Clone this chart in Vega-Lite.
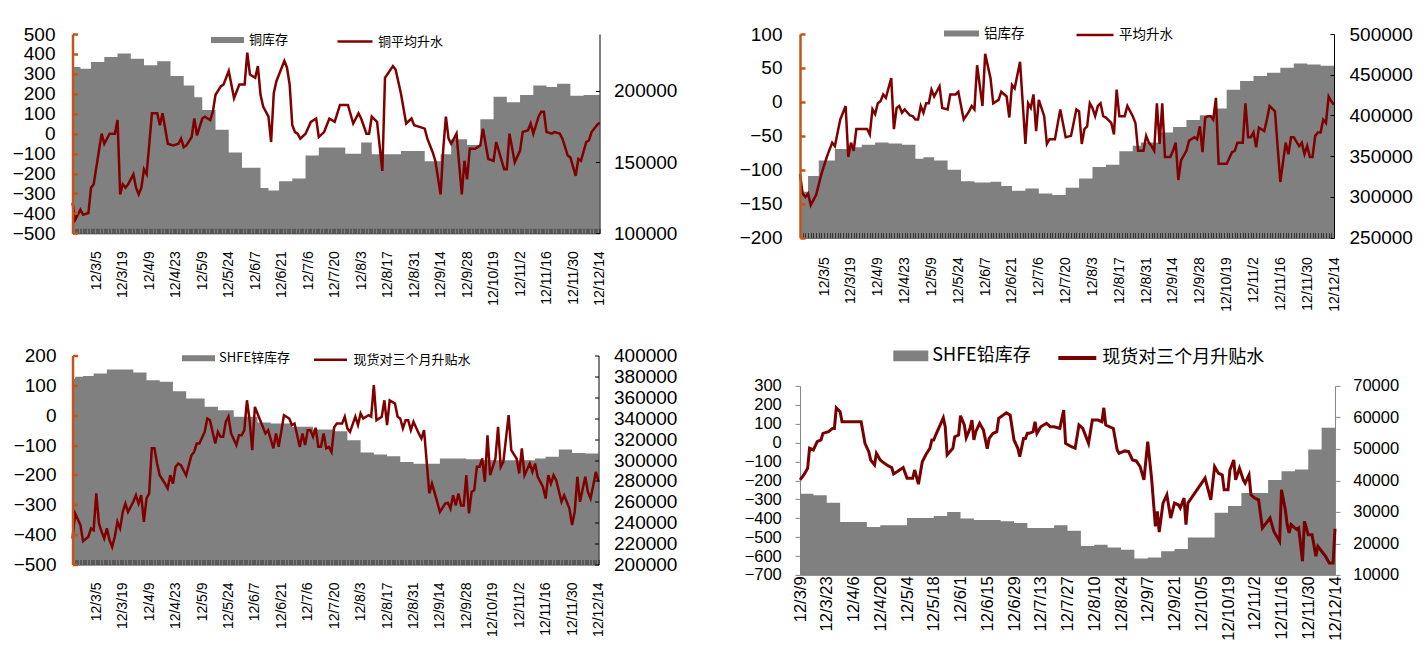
{
"$schema": "https://vega.github.io/schema/vega-lite/v6.json",
"background": "white",
"padding": {"left": 11.5, "top": 15, "right": 0, "bottom": 0},
"config": {"view": {"stroke": null}, "font": "Liberation Sans", "axis": {"grid": false, "labelFont": "Liberation Sans", "labelColor": "#000", "title": null, "labelOverlap": false}, "legend": {"labelFont": "Noto Sans CJK SC", "labelColor": "#000", "padding": 0, "title": null, "symbolOpacity": 1, "labelLimit": 400}},
"datasets": {
"cu_inv": [{"i":0,"v":216900},{"i":3,"v":215600},{"i":7,"v":220400},{"i":12,"v":223900},{"i":17,"v":226300},{"i":22,"v":222700},{"i":27,"v":218000},{"i":32,"v":220800},{"i":37,"v":210500},{"i":42,"v":203800},{"i":46,"v":195600},{"i":49,"v":186600},{"i":54,"v":172700},{"i":59,"v":156700},{"i":64,"v":146000},{"i":71,"v":131900},{"i":74,"v":130000},{"i":78,"v":136500},{"i":83,"v":138500},{"i":88,"v":154700},{"i":93,"v":160200},{"i":103,"v":155900},{"i":109,"v":163700},{"i":113,"v":155500},{"i":124,"v":157800},{"i":133,"v":150700},{"i":139,"v":155500},{"i":143,"v":166100},{"i":149,"v":162000},{"i":154,"v":180200},{"i":159,"v":196000},{"i":164,"v":192100},{"i":169,"v":197200},{"i":174,"v":203800},{"i":179,"v":202700},{"i":183,"v":205000},{"i":188,"v":196700},{"i":193,"v":197200},{"i":199,"v":197200}],
"cu_sp": [{"i":0,"v":-347},{"i":1,"v":-432},{"i":3,"v":-382},{"i":4,"v":-407},{"i":6,"v":-398},{"i":7,"v":-271},{"i":8,"v":-254},{"i":11,"v":0},{"i":12,"v":-51},{"i":14,"v":0},{"i":16,"v":0},{"i":17,"v":68},{"i":18,"v":-305},{"i":19,"v":-254},{"i":20,"v":-271},{"i":21,"v":-254},{"i":23,"v":-204},{"i":24,"v":-271},{"i":25,"v":-305},{"i":26,"v":-271},{"i":27,"v":-178},{"i":28,"v":-203},{"i":30,"v":102},{"i":32,"v":102},{"i":33,"v":42},{"i":34,"v":102},{"i":36,"v":-51},{"i":38,"v":-59},{"i":40,"v":-51},{"i":41,"v":-25},{"i":42,"v":-68},{"i":43,"v":-59},{"i":45,"v":-17},{"i":46,"v":76},{"i":47,"v":-9},{"i":49,"v":76},{"i":50,"v":85},{"i":52,"v":68},{"i":53,"v":110},{"i":54,"v":195},{"i":56,"v":237},{"i":57,"v":246},{"i":59,"v":314},{"i":61,"v":178},{"i":63,"v":246},{"i":65,"v":246},{"i":66,"v":407},{"i":67,"v":297},{"i":69,"v":280},{"i":70,"v":339},{"i":71,"v":195},{"i":72,"v":136},{"i":74,"v":85},{"i":75,"v":-42},{"i":76,"v":203},{"i":77,"v":263},{"i":80,"v":365},{"i":81,"v":331},{"i":82,"v":246},{"i":83,"v":42},{"i":84,"v":8},{"i":85,"v":0},{"i":86,"v":-25},{"i":88,"v":0},{"i":90,"v":59},{"i":92,"v":76},{"i":93,"v":-17},{"i":95,"v":8},{"i":97,"v":76},{"i":99,"v":59},{"i":101,"v":144},{"i":104,"v":144},{"i":106,"v":51},{"i":108,"v":102},{"i":109,"v":76},{"i":111,"v":0},{"i":112,"v":0},{"i":113,"v":85},{"i":115,"v":59},{"i":117,"v":-187},{"i":118,"v":280},{"i":121,"v":339},{"i":122,"v":322},{"i":124,"v":203},{"i":126,"v":51},{"i":128,"v":76},{"i":129,"v":42},{"i":131,"v":34},{"i":133,"v":25},{"i":134,"v":-25},{"i":136,"v":-93},{"i":137,"v":-136},{"i":139,"v":-305},{"i":140,"v":-76},{"i":141,"v":85},{"i":142,"v":-25},{"i":143,"v":-51},{"i":145,"v":0},{"i":147,"v":-305},{"i":148,"v":-136},{"i":149,"v":-229},{"i":150,"v":-76},{"i":152,"v":-76},{"i":154,"v":-59},{"i":155,"v":25},{"i":157,"v":-127},{"i":159,"v":-136},{"i":160,"v":-42},{"i":163,"v":-178},{"i":164,"v":-178},{"i":165,"v":0},{"i":167,"v":-144},{"i":169,"v":-85},{"i":170,"v":8},{"i":172,"v":17},{"i":173,"v":51},{"i":174,"v":0},{"i":176,"v":85},{"i":177,"v":110},{"i":178,"v":110},{"i":179,"v":8},{"i":181,"v":0},{"i":182,"v":8},{"i":184,"v":0},{"i":185,"v":-25},{"i":187,"v":-110},{"i":188,"v":-119},{"i":190,"v":-212},{"i":191,"v":-127},{"i":192,"v":-136},{"i":194,"v":-42},{"i":195,"v":-34},{"i":196,"v":8},{"i":198,"v":42},{"i":199,"v":55}],
"al_inv": [{"i":0,"v":306500},{"i":3,"v":325800},{"i":7,"v":344800},{"i":13,"v":358900},{"i":19,"v":360900},{"i":23,"v":364100},{"i":28,"v":366900},{"i":33,"v":365700},{"i":38,"v":364100},{"i":43,"v":346800},{"i":46,"v":348800},{"i":50,"v":344800},{"i":55,"v":333500},{"i":60,"v":319400},{"i":65,"v":317800},{"i":71,"v":318600},{"i":75,"v":313300},{"i":79,"v":307700},{"i":84,"v":310500},{"i":89,"v":304400},{"i":94,"v":302400},{"i":99,"v":311300},{"i":104,"v":322600},{"i":109,"v":336700},{"i":114,"v":339500},{"i":119,"v":356000},{"i":124,"v":362900},{"i":127,"v":366900},{"i":134,"v":379000},{"i":139,"v":385900},{"i":144,"v":394400},{"i":149,"v":400400},{"i":154,"v":408500},{"i":159,"v":431500},{"i":164,"v":442300},{"i":169,"v":448400},{"i":174,"v":452400},{"i":179,"v":458500},{"i":184,"v":463700},{"i":189,"v":462500},{"i":194,"v":460900},{"i":199,"v":455000}],
"al_sp": [{"i":0,"v":-106},{"i":1,"v":-135},{"i":2,"v":-140},{"i":3,"v":-135},{"i":4,"v":-152},{"i":6,"v":-137},{"i":8,"v":-106},{"i":10,"v":-81},{"i":12,"v":-60},{"i":13,"v":-65},{"i":15,"v":-26},{"i":17,"v":-6},{"i":18,"v":-81},{"i":19,"v":-60},{"i":20,"v":-72},{"i":21,"v":-40},{"i":25,"v":-40},{"i":26,"v":-48},{"i":27,"v":-11},{"i":28,"v":-18},{"i":29,"v":-2},{"i":30,"v":1},{"i":31,"v":11},{"i":32,"v":6},{"i":34,"v":35},{"i":35,"v":-40},{"i":36,"v":-9},{"i":37,"v":-6},{"i":38,"v":-16},{"i":39,"v":-11},{"i":41,"v":-20},{"i":42,"v":-21},{"i":43,"v":-26},{"i":44,"v":-26},{"i":45,"v":-6},{"i":46,"v":-16},{"i":47,"v":-2},{"i":48,"v":-2},{"i":49,"v":18},{"i":50,"v":8},{"i":52,"v":23},{"i":53,"v":-9},{"i":55,"v":-11},{"i":56,"v":11},{"i":58,"v":11},{"i":59,"v":15},{"i":61,"v":-26},{"i":63,"v":-14},{"i":64,"v":-6},{"i":65,"v":-11},{"i":66,"v":54},{"i":68,"v":-6},{"i":69,"v":71},{"i":71,"v":35},{"i":72,"v":-2},{"i":74,"v":3},{"i":75,"v":15},{"i":77,"v":8},{"i":78,"v":-23},{"i":79,"v":25},{"i":80,"v":20},{"i":82,"v":59},{"i":84,"v":-62},{"i":85,"v":-2},{"i":86,"v":-9},{"i":87,"v":11},{"i":88,"v":-43},{"i":89,"v":3},{"i":91,"v":-21},{"i":92,"v":-62},{"i":93,"v":-55},{"i":95,"v":-55},{"i":97,"v":-11},{"i":99,"v":-52},{"i":101,"v":-50},{"i":103,"v":-11},{"i":104,"v":-14},{"i":105,"v":-62},{"i":106,"v":-40},{"i":107,"v":-36},{"i":108,"v":-2},{"i":109,"v":-9},{"i":110,"v":-21},{"i":111,"v":-6},{"i":112,"v":-2},{"i":113,"v":-21},{"i":114,"v":-23},{"i":116,"v":-31},{"i":117,"v":-48},{"i":118,"v":18},{"i":119,"v":-21},{"i":121,"v":-21},{"i":122,"v":-6},{"i":124,"v":-21},{"i":125,"v":-31},{"i":126,"v":-72},{"i":128,"v":-72},{"i":129,"v":-50},{"i":130,"v":-60},{"i":131,"v":-65},{"i":132,"v":-72},{"i":133,"v":-2},{"i":134,"v":-62},{"i":135,"v":-2},{"i":136,"v":-81},{"i":138,"v":-81},{"i":139,"v":-72},{"i":140,"v":-60},{"i":141,"v":-115},{"i":142,"v":-86},{"i":144,"v":-72},{"i":145,"v":-57},{"i":147,"v":-52},{"i":148,"v":-55},{"i":149,"v":-36},{"i":150,"v":-74},{"i":151,"v":-23},{"i":152,"v":-21},{"i":153,"v":-21},{"i":154,"v":-26},{"i":155,"v":6},{"i":156,"v":-91},{"i":159,"v":-91},{"i":161,"v":-74},{"i":162,"v":-72},{"i":163,"v":-60},{"i":165,"v":-60},{"i":166,"v":-2},{"i":167,"v":-52},{"i":168,"v":-52},{"i":169,"v":-45},{"i":170,"v":-67},{"i":171,"v":-38},{"i":173,"v":-43},{"i":174,"v":-26},{"i":175,"v":-6},{"i":177,"v":-14},{"i":179,"v":-118},{"i":181,"v":-60},{"i":182,"v":-77},{"i":183,"v":-52},{"i":184,"v":-52},{"i":186,"v":-65},{"i":187,"v":-60},{"i":188,"v":-77},{"i":189,"v":-65},{"i":190,"v":-81},{"i":191,"v":-81},{"i":192,"v":-50},{"i":193,"v":-45},{"i":194,"v":-45},{"i":195,"v":-26},{"i":196,"v":-31},{"i":197,"v":8},{"i":198,"v":1},{"i":199,"v":-4}],
"zn_inv": [{"i":0,"v":377400},{"i":1,"v":379600},{"i":4,"v":380500},{"i":8,"v":382800},{"i":13,"v":386600},{"i":23,"v":383700},{"i":28,"v":376400},{"i":33,"v":374800},{"i":38,"v":365900},{"i":43,"v":358900},{"i":50,"v":350900},{"i":55,"v":347700},{"i":61,"v":341300},{"i":70,"v":335900},{"i":75,"v":334900},{"i":83,"v":331700},{"i":91,"v":329200},{"i":99,"v":327600},{"i":104,"v":319000},{"i":109,"v":307200},{"i":114,"v":305300},{"i":119,"v":303700},{"i":124,"v":298200},{"i":129,"v":296300},{"i":139,"v":301400},{"i":149,"v":300700},{"i":155,"v":299800},{"i":175,"v":301400},{"i":179,"v":303000},{"i":184,"v":310000},{"i":189,"v":306800},{"i":194,"v":306200},{"i":199,"v":306200}],
"zn_sp": [{"i":0,"v":-413},{"i":1,"v":-329},{"i":3,"v":-368},{"i":4,"v":-422},{"i":6,"v":-407},{"i":7,"v":-379},{"i":8,"v":-385},{"i":9,"v":-262},{"i":10,"v":-362},{"i":11,"v":-390},{"i":12,"v":-413},{"i":13,"v":-379},{"i":14,"v":-418},{"i":15,"v":-441},{"i":16,"v":-407},{"i":17,"v":-357},{"i":18,"v":-379},{"i":19,"v":-324},{"i":20,"v":-296},{"i":21,"v":-324},{"i":23,"v":-290},{"i":24,"v":-268},{"i":25,"v":-296},{"i":26,"v":-268},{"i":27,"v":-357},{"i":28,"v":-279},{"i":29,"v":-262},{"i":30,"v":-111},{"i":31,"v":-111},{"i":32,"v":-162},{"i":33,"v":-201},{"i":35,"v":-229},{"i":36,"v":-245},{"i":37,"v":-201},{"i":38,"v":-229},{"i":39,"v":-173},{"i":40,"v":-162},{"i":41,"v":-167},{"i":43,"v":-201},{"i":45,"v":-134},{"i":46,"v":-123},{"i":47,"v":-95},{"i":48,"v":-95},{"i":50,"v":-56},{"i":51,"v":-11},{"i":52,"v":-17},{"i":54,"v":-95},{"i":55,"v":-56},{"i":56,"v":-72},{"i":57,"v":-72},{"i":58,"v":-22},{"i":59,"v":-5},{"i":60,"v":-61},{"i":62,"v":-100},{"i":63,"v":-67},{"i":64,"v":-67},{"i":65,"v":-50},{"i":66,"v":50},{"i":67,"v":-17},{"i":68,"v":-117},{"i":69,"v":28},{"i":71,"v":-17},{"i":72,"v":-39},{"i":73,"v":-61},{"i":74,"v":-50},{"i":76,"v":-111},{"i":77,"v":-61},{"i":78,"v":-106},{"i":80,"v":0},{"i":82,"v":-11},{"i":83,"v":-33},{"i":84,"v":-28},{"i":86,"v":-106},{"i":87,"v":-61},{"i":88,"v":-100},{"i":89,"v":-50},{"i":90,"v":-50},{"i":91,"v":-72},{"i":92,"v":-42},{"i":93,"v":-106},{"i":94,"v":-106},{"i":95,"v":-61},{"i":96,"v":-111},{"i":97,"v":-106},{"i":98,"v":-123},{"i":99,"v":-40},{"i":100,"v":-28},{"i":102,"v":-28},{"i":103,"v":-5},{"i":104,"v":-44},{"i":105,"v":-56},{"i":107,"v":-5},{"i":108,"v":-33},{"i":109,"v":6},{"i":110,"v":-11},{"i":112,"v":0},{"i":113,"v":-5},{"i":114,"v":101},{"i":115,"v":-17},{"i":117,"v":-5},{"i":118,"v":50},{"i":119,"v":-33},{"i":120,"v":50},{"i":122,"v":39},{"i":123,"v":-5},{"i":124,"v":-11},{"i":125,"v":-44},{"i":126,"v":-17},{"i":127,"v":-17},{"i":128,"v":-50},{"i":129,"v":-22},{"i":131,"v":-61},{"i":132,"v":-78},{"i":133,"v":-50},{"i":135,"v":-262},{"i":136,"v":-229},{"i":137,"v":-259},{"i":139,"v":-324},{"i":141,"v":-296},{"i":142,"v":-293},{"i":143,"v":-313},{"i":144,"v":-268},{"i":145,"v":-302},{"i":146,"v":-262},{"i":147,"v":-302},{"i":148,"v":-302},{"i":149,"v":-201},{"i":150,"v":-329},{"i":151,"v":-257},{"i":152,"v":-251},{"i":153,"v":-173},{"i":154,"v":-173},{"i":155,"v":-145},{"i":156,"v":-223},{"i":157,"v":-67},{"i":158,"v":-201},{"i":160,"v":-145},{"i":161,"v":-39},{"i":162,"v":-173},{"i":163,"v":-156},{"i":165,"v":0},{"i":166,"v":-117},{"i":168,"v":-145},{"i":169,"v":-195},{"i":170,"v":-111},{"i":171,"v":-201},{"i":173,"v":-162},{"i":174,"v":-190},{"i":175,"v":-162},{"i":176,"v":-206},{"i":178,"v":-240},{"i":179,"v":-279},{"i":180,"v":-201},{"i":181,"v":-229},{"i":182,"v":-201},{"i":183,"v":-218},{"i":185,"v":-290},{"i":186,"v":-268},{"i":187,"v":-290},{"i":188,"v":-313},{"i":189,"v":-368},{"i":190,"v":-324},{"i":191,"v":-206},{"i":192,"v":-290},{"i":194,"v":-206},{"i":195,"v":-257},{"i":196,"v":-279},{"i":197,"v":-235},{"i":198,"v":-190},{"i":199,"v":-223}],
"pb_inv": [{"t":0,"v":35800},{"t":7,"v":35300},{"t":14,"v":32900},{"t":21,"v":26800},{"t":35,"v":25200},{"t":42,"v":25800},{"t":56,"v":28100},{"t":70,"v":28700},{"t":77,"v":30000},{"t":84,"v":27900},{"t":91,"v":27400},{"t":105,"v":27000},{"t":112,"v":26500},{"t":119,"v":24900},{"t":133,"v":25800},{"t":140,"v":24000},{"t":147,"v":19200},{"t":154,"v":19600},{"t":161,"v":18700},{"t":168,"v":18000},{"t":175,"v":15200},{"t":182,"v":15500},{"t":189,"v":17500},{"t":196,"v":18200},{"t":203,"v":21900},{"t":217,"v":29700},{"t":224,"v":31900},{"t":231,"v":36000},{"t":245,"v":40100},{"t":252,"v":42900},{"t":259,"v":43500},{"t":266,"v":49800},{"t":273,"v":56700},{"t":280,"v":64000}],
"pb_sp": [{"t":0,"v":-197},{"t":2,"v":-171},{"t":4,"v":-136},{"t":5,"v":-30},{"t":7,"v":-39},{"t":9,"v":5},{"t":11,"v":14},{"t":12,"v":49},{"t":15,"v":58},{"t":17,"v":75},{"t":18,"v":75},{"t":19,"v":184},{"t":21,"v":163},{"t":22,"v":110},{"t":32,"v":110},{"t":34,"v":-4},{"t":36,"v":-48},{"t":37,"v":-92},{"t":39,"v":-118},{"t":40,"v":-57},{"t":42,"v":-92},{"t":43,"v":-101},{"t":46,"v":-122},{"t":48,"v":-132},{"t":49,"v":-166},{"t":51,"v":-153},{"t":54,"v":-132},{"t":56,"v":-188},{"t":59,"v":-188},{"t":60,"v":-145},{"t":62,"v":-220},{"t":64,"v":-101},{"t":66,"v":-62},{"t":68,"v":-30},{"t":69,"v":14},{"t":70,"v":14},{"t":71,"v":40},{"t":75,"v":131},{"t":76,"v":84},{"t":77,"v":-65},{"t":80,"v":-30},{"t":81,"v":31},{"t":83,"v":40},{"t":84,"v":142},{"t":86,"v":93},{"t":87,"v":26},{"t":89,"v":75},{"t":90,"v":119},{"t":91,"v":14},{"t":92,"v":58},{"t":94,"v":102},{"t":96,"v":66},{"t":98,"v":-32},{"t":99,"v":22},{"t":101,"v":49},{"t":103,"v":58},{"t":104,"v":128},{"t":108,"v":158},{"t":110,"v":145},{"t":112,"v":14},{"t":114,"v":-30},{"t":115,"v":-74},{"t":117,"v":22},{"t":118,"v":22},{"t":119,"v":49},{"t":120,"v":49},{"t":122,"v":58},{"t":123,"v":110},{"t":124,"v":49},{"t":126,"v":84},{"t":129,"v":102},{"t":131,"v":84},{"t":133,"v":84},{"t":136,"v":75},{"t":138,"v":172},{"t":139,"v":-4},{"t":142,"v":-22},{"t":144,"v":-30},{"t":146,"v":93},{"t":148,"v":75},{"t":151,"v":-4},{"t":153,"v":119},{"t":156,"v":119},{"t":158,"v":110},{"t":159,"v":184},{"t":160,"v":93},{"t":164,"v":75},{"t":166,"v":-39},{"t":167,"v":-57},{"t":170,"v":-44},{"t":172,"v":-48},{"t":174,"v":-92},{"t":176,"v":-97},{"t":178,"v":-127},{"t":180,"v":-197},{"t":182,"v":5},{"t":184,"v":-188},{"t":186,"v":-443},{"t":187,"v":-364},{"t":188,"v":-473},{"t":190,"v":-320},{"t":192,"v":-276},{"t":194,"v":-399},{"t":196,"v":-320},{"t":198,"v":-329},{"t":199,"v":-346},{"t":201,"v":-294},{"t":202,"v":-434},{"t":203,"v":-320},{"t":212,"v":-188},{"t":215,"v":-303},{"t":217,"v":-127},{"t":219,"v":-162},{"t":221,"v":-171},{"t":222,"v":-250},{"t":224,"v":-250},{"t":225,"v":-145},{"t":227,"v":-92},{"t":228,"v":-197},{"t":230,"v":-136},{"t":232,"v":-197},{"t":233,"v":-215},{"t":235,"v":-171},{"t":236,"v":-276},{"t":238,"v":-294},{"t":240,"v":-303},{"t":242,"v":-452},{"t":244,"v":-426},{"t":246,"v":-399},{"t":248,"v":-470},{"t":251,"v":-522},{"t":252,"v":-250},{"t":254,"v":-355},{"t":255,"v":-434},{"t":256,"v":-478},{"t":257,"v":-434},{"t":260,"v":-460},{"t":261,"v":-452},{"t":263,"v":-628},{"t":264,"v":-417},{"t":266,"v":-487},{"t":268,"v":-487},{"t":270,"v":-601},{"t":271,"v":-549},{"t":273,"v":-575},{"t":275,"v":-601},{"t":277,"v":-637},{"t":279,"v":-637},{"t":280,"v":-456}]
},
"resolve": {"scale": {"x": "independent", "y": "independent", "fill": "independent", "stroke": "independent"}},
"spacing": 61.5,
"hconcat": [
{"vconcat": [
{"width": 527, "height": 199.3,
 "layer": [
 {"data": {"name": "cu_inv"}, "mark": {"type": "area", "interpolate": "step-after", "opacity": 1},
  "encoding": {
   "x": {"field": "i", "type": "quantitative", "scale": {"domain": [0, 199], "nice": false, "zero": false},
    "axis": {"tickCount": 200, "labelExpr": "(datum.value-9)%10==0 && datum.value>=9 ? ['12/3/5','12/3/19','12/4/9','12/4/23','12/5/9','12/5/24','12/6/7','12/6/21','12/7/6','12/7/20','12/8/3','12/8/17','12/8/31','12/9/14','12/9/28','12/10/19','12/11/2','12/11/16','12/11/30','12/12/14'][(datum.value-9)/10] : ''", "labelAngle": -90, "labelFontSize": 14, "labelPadding": 22.4, "tickSize": -5, "tickColor": "#333", "domainColor": "#333", "labelOverlap": false, "labelBound": false, "labelFlush": false, "zindex": 1}},
   "y": {"field": "v", "type": "quantitative", "scale": {"domain": [100000, 240000], "nice": false, "zero": false},
    "axis": {"orient": "right", "values": [100000, 150000, 200000], "format": "d", "labelFontSize": 19, "labelPadding": 18, "tickSize": -4, "tickColor": "#000", "domainColor": "#000", "zindex": 1}},
   "y2": {"datum": 100000},
   "fill": {"datum": "铜库存", "scale": {"range": ["#808080"]}, "legend": {"orient": "none", "legendX": 138.5, "legendY": -10.5, "symbolType": "M-1,-0.18H1V0.18H-1Z", "symbolSize": 1089, "symbolStrokeWidth": 0, "labelFontSize": 13, "labelOffset": 5}}
  }},
 {"data": {"name": "cu_sp"}, "mark": {"type": "line", "color": "#800000", "strokeWidth": 2.5},
  "encoding": {
   "x": {"field": "i", "type": "quantitative"},
   "y": {"field": "v", "type": "quantitative", "scale": {"domain": [-500, 500], "nice": false},
    "axis": {"orient": "left", "values": [-500, -400, -300, -200, -100, 0, 100, 200, 300, 400, 500], "labelFontSize": 19, "labelPadding": 22.5, "tickSize": -5, "tickWidth": 2.5, "tickColor": "#c0561a", "domainColor": "#c0561a", "domainWidth": 2.5, "zindex": 1}},
   "stroke": {"datum": "铜平均升水", "scale": {"range": ["#800000"]}, "legend": {"orient": "none", "legendX": 263.5, "legendY": -11.5, "symbolType": "stroke", "symbolSize": 1225, "symbolStrokeWidth": 2.5, "labelFontSize": 13, "labelOffset": 4}}
  }}
 ],
 "resolve": {"scale": {"y": "independent"}}
},
{"width": 526, "height": 209,
 "layer": [
 {"data": {"name": "zn_inv"}, "mark": {"type": "area", "interpolate": "step-after", "opacity": 1},
  "encoding": {
   "x": {"field": "i", "type": "quantitative", "scale": {"domain": [0, 199], "nice": false, "zero": false},
    "axis": {"tickCount": 200, "labelExpr": "(datum.value-9)%10==0 && datum.value>=9 ? ['12/3/5','12/3/19','12/4/9','12/4/23','12/5/9','12/5/24','12/6/7','12/6/21','12/7/6','12/7/20','12/8/3','12/8/17','12/8/31','12/9/14','12/9/28','12/10/19','12/11/2','12/11/16','12/11/30','12/12/14'][(datum.value-9)/10] : ''", "labelAngle": -90, "labelFontSize": 14, "labelPadding": 22.4, "tickSize": -5, "tickColor": "#333", "domainColor": "#333", "labelOverlap": false, "labelBound": false, "labelFlush": false, "zindex": 1}},
   "y": {"field": "v", "type": "quantitative", "scale": {"domain": [200000, 400000], "nice": false, "zero": false},
    "axis": {"orient": "right", "values": [200000, 220000, 240000, 260000, 280000, 300000, 320000, 340000, 360000, 380000, 400000], "format": "d", "labelFontSize": 19, "labelPadding": 19, "tickSize": -4, "tickColor": "#000", "domainColor": "#000", "zindex": 1}},
   "y2": {"datum": 200000},
   "fill": {"datum": "SHFE锌库存", "scale": {"range": ["#808080"]}, "legend": {"orient": "none", "legendX": 109.5, "legendY": -13.8, "symbolType": "M-1,-0.18H1V0.18H-1Z", "symbolSize": 1089, "symbolStrokeWidth": 0, "labelFontSize": 13, "labelOffset": 4}}
  }},
 {"data": {"name": "zn_sp"}, "mark": {"type": "line", "color": "#800000", "strokeWidth": 2.5},
  "encoding": {
   "x": {"field": "i", "type": "quantitative"},
   "y": {"field": "v", "type": "quantitative", "scale": {"domain": [-500, 200], "nice": false},
    "axis": {"orient": "left", "values": [-500, -400, -300, -200, -100, 0, 100, 200], "labelFontSize": 19, "labelPadding": 21.5, "tickSize": -5, "tickWidth": 2.5, "tickColor": "#c0561a", "domainColor": "#c0561a", "domainWidth": 2.5, "zindex": 1}},
   "stroke": {"datum": "现货对三个月升贴水", "scale": {"range": ["#800000"]}, "legend": {"orient": "none", "legendX": 240, "legendY": -13.8, "symbolType": "stroke", "symbolSize": 1089, "symbolStrokeWidth": 2.5, "labelFontSize": 13, "labelOffset": 5}}
  }}
 ],
 "resolve": {"scale": {"y": "independent"}}
}
], "spacing": 35.5, "resolve": {"scale": {"x": "independent", "y": "independent", "fill": "independent", "stroke": "independent"}}},
{"vconcat": [
{"width": 534, "height": 203.7,
 "layer": [
 {"data": {"name": "al_inv"}, "mark": {"type": "area", "interpolate": "step-after", "opacity": 1},
  "encoding": {
   "x": {"field": "i", "type": "quantitative", "scale": {"domain": [0, 199], "nice": false, "zero": false},
    "axis": {"tickCount": 200, "labelExpr": "(datum.value-9)%10==0 && datum.value>=9 ? ['12/3/5','12/3/19','12/4/9','12/4/23','12/5/9','12/5/24','12/6/7','12/6/21','12/7/6','12/7/20','12/8/3','12/8/17','12/8/31','12/9/14','12/9/28','12/10/19','12/11/2','12/11/16','12/11/30','12/12/14'][(datum.value-9)/10] : ''", "labelAngle": -90, "labelFontSize": 14, "labelPadding": 24, "tickSize": -5, "tickColor": "#333", "domainColor": "#333", "labelOverlap": false, "labelBound": false, "labelFlush": false, "zindex": 1}},
   "y": {"field": "v", "type": "quantitative", "scale": {"domain": [250000, 500000], "nice": false, "zero": false},
    "axis": {"orient": "right", "values": [250000, 300000, 350000, 400000, 450000, 500000], "format": "d", "labelFontSize": 19, "labelPadding": 19, "tickSize": -4, "tickColor": "#000", "domainColor": "#000", "zindex": 1}},
   "y2": {"datum": 250000},
   "fill": {"datum": "铝库存", "scale": {"range": ["#808080"]}, "legend": {"orient": "none", "legendX": 144, "legendY": -18, "symbolType": "M-1,-0.17H1V0.17H-1Z", "symbolSize": 1225, "symbolStrokeWidth": 0, "labelFontSize": 13.5, "labelOffset": 5}}
  }},
 {"data": {"name": "al_sp"}, "mark": {"type": "line", "color": "#800000", "strokeWidth": 2.5},
  "encoding": {
   "x": {"field": "i", "type": "quantitative"},
   "y": {"field": "v", "type": "quantitative", "scale": {"domain": [-200, 100], "nice": false},
    "axis": {"orient": "left", "values": [-200, -150, -100, -50, 0, 50, 100], "labelFontSize": 19, "labelPadding": 23, "tickSize": -5, "tickWidth": 2.5, "tickColor": "#c0561a", "domainColor": "#c0561a", "domainWidth": 2.5, "zindex": 1}},
   "stroke": {"datum": "平均升水", "scale": {"range": ["#800000"]}, "legend": {"orient": "none", "legendX": 275, "legendY": -19, "symbolType": "stroke", "symbolSize": 1369, "symbolStrokeWidth": 2.5, "labelFontSize": 13.5, "labelOffset": 4}}
  }}
 ],
 "resolve": {"scale": {"y": "independent"}}
},
{"width": 535, "height": 189,
 "layer": [
 {"data": {"name": "pb_inv"}, "mark": {"type": "area", "interpolate": "step-after", "opacity": 1},
  "encoding": {
   "x": {"field": "t", "type": "quantitative", "scale": {"domain": [0, 280], "nice": false, "zero": false},
    "axis": {"tickCount": 281, "labelExpr": "datum.value%14==0 ? ['12/3/9','12/3/23','12/4/6','12/4/20','12/5/4','12/5/18','12/6/1','12/6/15','12/6/29','12/7/13','12/7/27','12/8/10','12/8/24','12/9/7','12/9/21','12/10/5','12/10/19','12/11/2','12/11/16','12/11/30','12/12/14'][datum.value/14] : ''", "labelAngle": -90, "labelFontSize": 16.5, "labelPadding": 1, "ticks": false, "domainColor": "#868686", "labelOverlap": false, "labelBound": false, "labelFlush": false, "zindex": 1}},
   "y": {"field": "v", "type": "quantitative", "scale": {"domain": [10000, 70000], "nice": false, "zero": false},
    "axis": {"orient": "right", "values": [10000, 20000, 30000, 40000, 50000, 60000, 70000], "format": "d", "labelFontSize": 16.5, "labelPadding": 12.7, "tickSize": 5, "tickColor": "#868686", "domainColor": "#868686"}},
   "y2": {"datum": 10000},
   "fill": {"datum": "SHFE铅库存", "scale": {"range": ["#808080"]}, "legend": {"orient": "none", "legendX": 93.3, "legendY": -47.5, "symbolType": "M-1,-0.31H1V0.31H-1Z", "symbolSize": 1225, "symbolStrokeWidth": 0, "labelFontSize": 18, "labelOffset": 4}}
  }},
 {"data": {"name": "pb_sp"}, "mark": {"type": "line", "color": "#780000", "strokeWidth": 3},
  "encoding": {
   "x": {"field": "t", "type": "quantitative"},
   "y": {"field": "v", "type": "quantitative", "scale": {"domain": [-700, 300], "nice": false},
    "axis": {"orient": "left", "values": [-700, -600, -500, -400, -300, -200, -100, 0, 100, 200, 300], "labelFontSize": 16.5, "labelPadding": 13.7, "tickSize": 5, "tickColor": "#868686", "domainColor": "#868686"}},
   "stroke": {"datum": "现货对三个月升贴水", "scale": {"range": ["#780000"]}, "legend": {"orient": "none", "legendX": 256.3, "legendY": -49, "symbolType": "stroke", "symbolSize": 1444, "symbolStrokeWidth": 4, "labelFontSize": 18, "labelOffset": 4}}
  }}
 ],
 "resolve": {"scale": {"y": "independent"}}
}
], "spacing": 24.9, "resolve": {"scale": {"x": "independent", "y": "independent", "fill": "independent", "stroke": "independent"}}}
]
}
